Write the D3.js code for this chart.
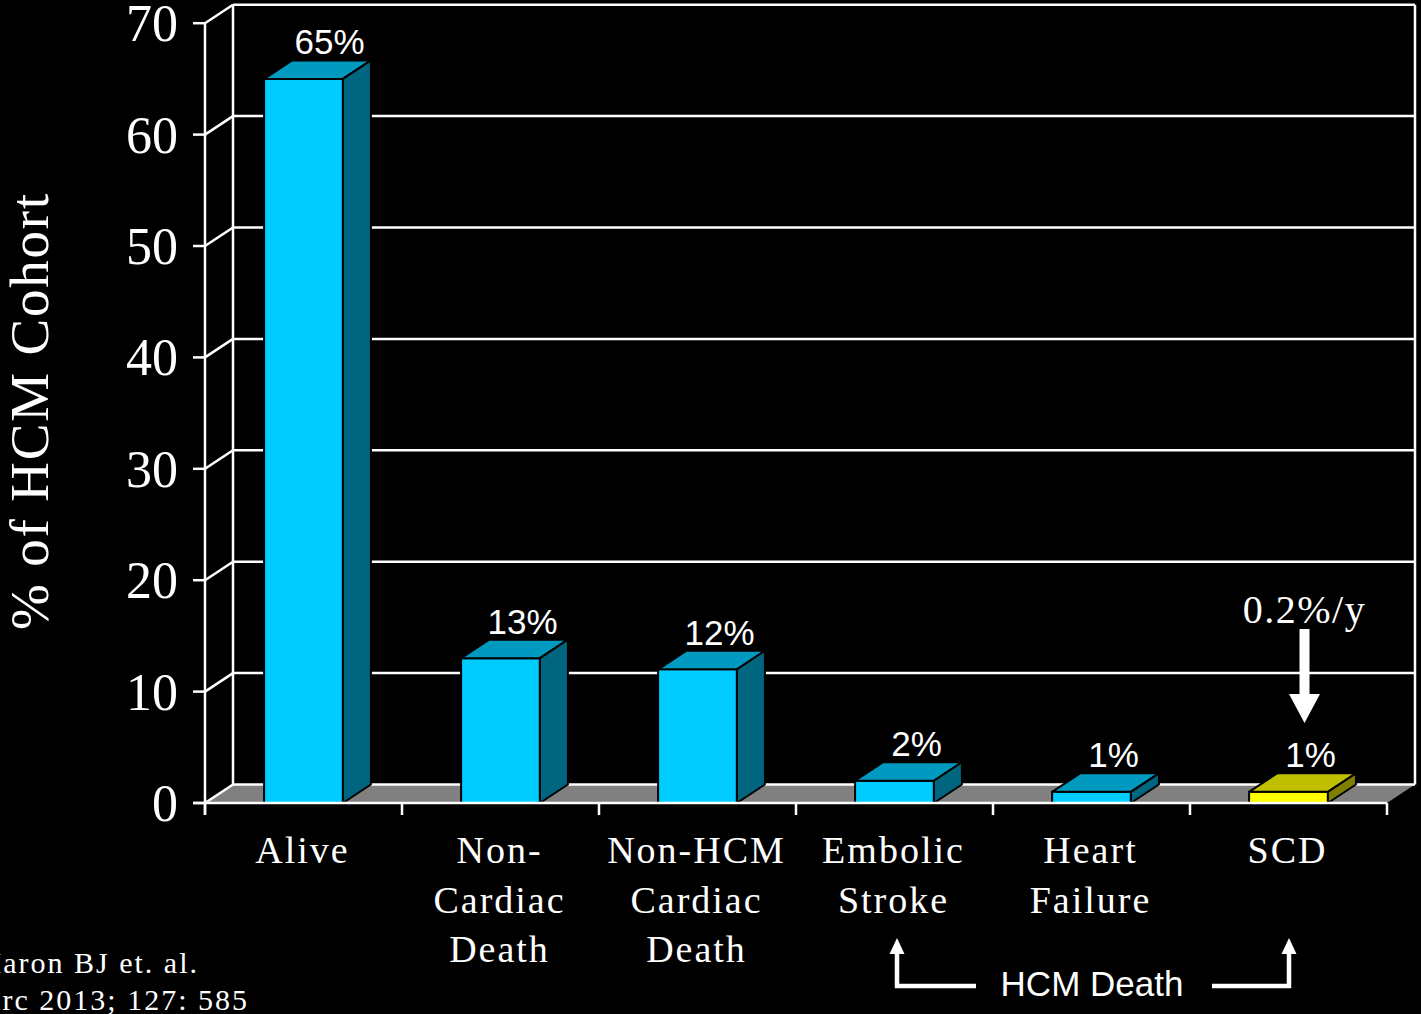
<!DOCTYPE html>
<html>
<head>
<meta charset="utf-8">
<script src="https://cdn.jsdelivr.net/npm/d3@7"></script>
<style>
  html, body { margin: 0; padding: 0; background: #000; }
  svg { display: block; }
  .serif { font-family: "Liberation Serif", "Times New Roman", serif; fill: #fff; }
  .sans { font-family: "Liberation Sans", Arial, sans-serif; fill: #fff; }
</style>
</head>
<body>
<svg id="chart" width="1421" height="1014"></svg>
<script>
// Outcome categories of the HCM cohort
const categories = ["Alive", "Non-Cardiac Death", "Non-HCM Cardiac Death", "Embolic Stroke", "Heart Failure", "SCD"];
const categoryLines = [["Alive"], ["Non-", "Cardiac", "Death"], ["Non-HCM", "Cardiac", "Death"], ["Embolic", "Stroke"], ["Heart", "Failure"], ["SCD"]];
const values = [65, 13, 12, 2, 1, 1];
const valueLabels = ["65%", "13%", "12%", "2%", "1%", "1%"];
const yTicks = [0, 10, 20, 30, 40, 50, 60, 70];

const svg = d3.select("#chart");

// 3D depth offset of the plot box
const DX = 28, DY = 18.5;

const y = d3.scaleLinear().domain([0, 70]).range([803, 23.2]);
const x = d3.scaleBand().domain(categories).range([205, 1387]).paddingInner(0.6).paddingOuter(0.3);
const x0 = 205, x1 = 1387;

const faces = {
  normal: { front: "#00ccff", top: "#0099c0", side: "#006680" },
  highlight: { front: "#ffff00", top: "#c0c000", side: "#808000" }
};

// floor
svg.append("path")
  .attr("d", `M${x0},${y(0)} L${x0 + DX},${y(0) - DY} L${x1 + DX},${y(0) - DY} L${x1},${y(0)} Z`)
  .attr("fill", "#808080");

// back wall gridlines
const grid = svg.append("g").attr("stroke", "#fff").attr("stroke-width", 2.5);
grid.selectAll("line.h").data(yTicks).join("line")
  .attr("x1", x0 + DX).attr("x2", x1 + DX)
  .attr("y1", d => y(d) - DY).attr("y2", d => y(d) - DY);
// side wall diagonals
grid.selectAll("line.d").data(yTicks).join("line")
  .attr("x1", x0).attr("x2", x0 + DX)
  .attr("y1", d => y(d)).attr("y2", d => y(d) - DY);
// back wall edges
grid.append("line").attr("x1", x0 + DX).attr("x2", x0 + DX).attr("y1", y(70) - DY).attr("y2", y(0) - DY);
grid.append("line").attr("x1", x1 + DX).attr("x2", x1 + DX).attr("y1", y(70) - DY).attr("y2", y(0) - DY);

// bars
const bars = svg.append("g").selectAll("g").data(categories).join("g")
  .attr("stroke", "#000").attr("stroke-width", 2).attr("stroke-linejoin", "round");
bars.each(function (c, i) {
  const g = d3.select(this);
  const col = c === "SCD" ? faces.highlight : faces.normal;
  const l = x(c), r = x(c) + x.bandwidth(), t = y(values[i]), b = y(0);
  g.append("path").attr("fill", col.front)
    .attr("d", `M${l},${b} L${l},${t} L${r},${t} L${r},${b} Z`);
  g.append("path").attr("fill", col.top)
    .attr("d", `M${l},${t} L${l + DX},${t - DY} L${r + DX},${t - DY} L${r},${t} Z`);
  g.append("path").attr("fill", col.side)
    .attr("d", `M${r},${t} L${r + DX},${t - DY} L${r + DX},${b - DY} L${r},${b} Z`);
});

// value labels above each bar
svg.append("g").selectAll("text").data(categories).join("text")
  .attr("class", "sans")
  .attr("x", (c, i) => x(c) + x.bandwidth() / 2 + (i === 0 ? 26 : 22))
  .attr("y", (c, i) => y(values[i]) - DY - 6)
  .attr("text-anchor", "middle")
  .attr("font-size", 35)
  .text((c, i) => valueLabels[i]);

// front axes
const axes = svg.append("g").attr("stroke", "#fff").attr("stroke-width", 2.5);
axes.append("line").attr("x1", x0 - 12).attr("x2", x1).attr("y1", y(0)).attr("y2", y(0));
axes.append("line").attr("x1", x0).attr("x2", x0).attr("y1", y(70)).attr("y2", y(0) + 12);
axes.selectAll("line.yt").data(yTicks).join("line")
  .attr("x1", x0 - 12).attr("x2", x0).attr("y1", d => y(d)).attr("y2", d => y(d));
const bounds = d3.range(categories.length + 1).map(i => x0 + i * x.step());
axes.selectAll("line.xt").data(bounds).join("line")
  .attr("x1", d => d).attr("x2", d => d).attr("y1", y(0)).attr("y2", y(0) + 12);

// y tick labels
svg.append("g").selectAll("text").data(yTicks).join("text")
  .attr("class", "serif")
  .attr("x", 178).attr("y", d => y(d) + 18)
  .attr("text-anchor", "end")
  .attr("font-size", 52)
  .text(d => d);

// y axis title
svg.append("text").attr("class", "serif")
  .attr("transform", "translate(48,411) rotate(-90)")
  .attr("text-anchor", "middle")
  .attr("font-size", 55).attr("letter-spacing", 1.8)
  .text("% of HCM Cohort");

// category labels
const catG = svg.append("g").selectAll("text").data(categories).join("text")
  .attr("class", "serif")
  .attr("text-anchor", "middle")
  .attr("font-size", 38).attr("letter-spacing", 2);
catG.each(function (c, i) {
  const cx = x(c) + x.bandwidth() / 2 - 1;
  d3.select(this).selectAll("tspan").data(categoryLines[i]).join("tspan")
    .attr("x", cx).attr("y", (d, j) => 863 + j * 49.5)
    .text(d => d);
});

// SCD rate annotation with down arrow
const scdX = x("SCD") + x.bandwidth() / 2 + 16;
svg.append("text").attr("class", "serif")
  .attr("x", scdX).attr("y", 623)
  .attr("text-anchor", "middle").attr("font-size", 40).attr("letter-spacing", 1.5)
  .text("0.2%/y");
svg.append("path").attr("fill", "#fff")
  .attr("d", `M${scdX - 5},629 L${scdX + 5},629 L${scdX + 5},694 L${scdX + 15.5},694 L${scdX},723 L${scdX - 15.5},694 L${scdX - 5},694 Z`);

// HCM death bracket
const bracket = svg.append("g");
bracket.append("path").attr("fill", "none").attr("stroke", "#fff").attr("stroke-width", 4.5)
  .attr("d", "M976,986 L897,986 L897,952");
bracket.append("path").attr("fill", "none").attr("stroke", "#fff").attr("stroke-width", 4.5)
  .attr("d", "M1212,986 L1289,986 L1289,952");
bracket.append("path").attr("fill", "#fff").attr("d", "M889.5,954 L897,938 L904.5,954 Z");
bracket.append("path").attr("fill", "#fff").attr("d", "M1281.5,954 L1289,938 L1296.5,954 Z");
svg.append("text").attr("class", "sans")
  .attr("x", 1092).attr("y", 996)
  .attr("text-anchor", "middle").attr("font-size", 35)
  .text("HCM Death");

// citation, running off the left edge of the slide
const cite = svg.append("text").attr("class", "serif")
  .attr("text-anchor", "end").attr("font-size", 30).attr("letter-spacing", 2);
cite.append("tspan").attr("x", 199).attr("y", 973).text("Maron BJ et. al.");
cite.append("tspan").attr("x", 249).attr("y", 1010).text("Circ 2013; 127: 585");
</script>
</body>
</html>
